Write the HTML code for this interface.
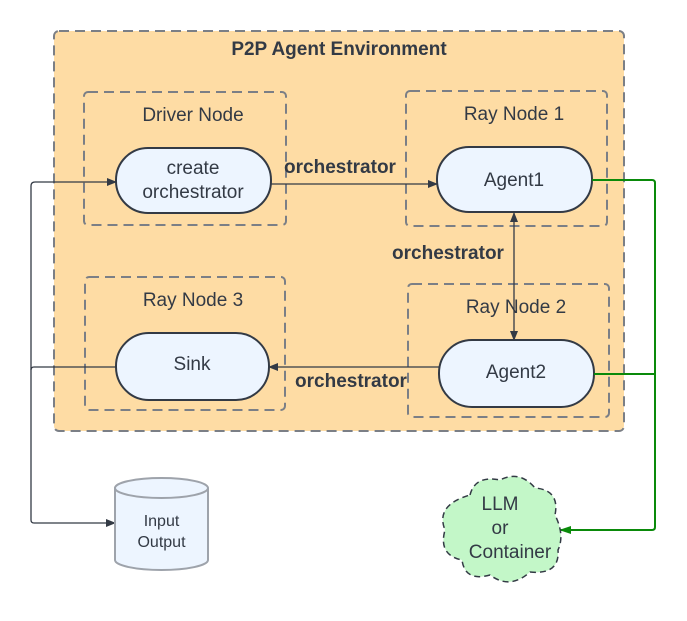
<!DOCTYPE html>
<html><head><style>
body{margin:0;background:#fff;}
svg text{font-family:"Liberation Sans",sans-serif;fill:#333a45;}
</style></head><body>
<svg width="687" height="616" viewBox="0 0 687 616" xmlns="http://www.w3.org/2000/svg">
<defs>
<marker id="a" markerWidth="10" markerHeight="10" refX="9" refY="5" orient="auto" markerUnits="userSpaceOnUse"><path d="M0,1 L10,5 L0,9 Z" fill="#333a45"/></marker>
<marker id="g" markerWidth="12" markerHeight="10" refX="11" refY="5" orient="auto" markerUnits="userSpaceOnUse"><path d="M0,1 L12,5 L0,9 Z" fill="#0a8a0a"/></marker>
</defs>
<rect x="54" y="31" width="570" height="400" rx="5" fill="#fedca4" stroke="#7b7f86" stroke-width="2" stroke-dasharray="10,6"/>
<text x="339" y="55" text-anchor="middle" font-size="19" font-weight="bold">P2P Agent Environment</text>
<g fill="none" stroke="#7b7f86" stroke-width="2" stroke-dasharray="10,6">
<rect x="84" y="92" width="202" height="133" rx="4"/>
<rect x="406" y="91" width="201" height="135" rx="4"/>
<rect x="85" y="277" width="200" height="133" rx="4"/>
<rect x="408" y="284" width="201" height="133" rx="4"/>
</g>
<g font-size="19" text-anchor="middle">
<text x="193" y="121">Driver Node</text>
<text x="514" y="120">Ray Node 1</text>
<text x="193" y="306">Ray Node 3</text>
<text x="516" y="313">Ray Node 2</text>
</g>
<g fill="#edf5ff" stroke="#333a45" stroke-width="2">
<rect x="116" y="148" width="155" height="65" rx="32"/>
<rect x="437" y="147" width="155" height="65" rx="32"/>
<rect x="116" y="333" width="153" height="67" rx="33"/>
<rect x="439" y="340" width="155" height="67" rx="33"/>
</g>
<g font-size="19" text-anchor="middle">
<text x="193" y="174">create</text>
<text x="193" y="198">orchestrator</text>
<text x="514" y="186">Agent1</text>
<text x="192" y="370">Sink</text>
<text x="516" y="378">Agent2</text>
</g>
<g stroke="#333a45" stroke-width="1.3" fill="none">
<line x1="271" y1="184" x2="437" y2="184" marker-end="url(#a)"/>
<line x1="514" y1="250" x2="514" y2="213" marker-end="url(#a)"/>
<line x1="514" y1="250" x2="514" y2="340" marker-end="url(#a)"/>
<line x1="439" y1="367" x2="269" y2="367" marker-end="url(#a)"/>
<path d="M116,367 H34 Q31,367 31,370 V520 Q31,523 34,523 H115" marker-end="url(#a)"/>
<path d="M31,370 V186 Q31,182 35,182 H116" marker-end="url(#a)"/>
</g>
<g font-size="19" font-weight="bold" text-anchor="middle">
<rect x="384" y="240" width="128" height="26" fill="#fedca4"/>
<text x="340" y="173">orchestrator</text>
<text x="448" y="259">orchestrator</text>
<text x="351" y="387">orchestrator</text>
</g>
<g stroke="#0a8a0a" stroke-width="2" fill="none">
<path d="M592,180 H652 Q655,180 655,183 V527 Q655,530 652,530 H560" marker-end="url(#g)"/>
<path d="M594,374 H655"/>
</g>
<g>
<path d="M115,488 V560 A46.5,10 0 0 0 208,560 V488" fill="#edf5ff" stroke="#9ea3ab" stroke-width="2"/>
<ellipse cx="161.5" cy="488" rx="46.5" ry="10" fill="#edf5ff" stroke="#9ea3ab" stroke-width="2"/>
<text x="161.5" y="526" font-size="16" text-anchor="middle">Input</text>
<text x="161.5" y="547" font-size="16" text-anchor="middle">Output</text>
</g>
<path d="M470,495 Q475,475 500,480 Q520,470 535,488 Q560,490 555,515 Q565,535 558,550 Q560,575 530,572 Q510,590 490,575 Q465,582 462,560 Q438,555 445,530 Q435,505 470,495 Z" fill="#c3f7c8" stroke="#333a45" stroke-width="1.5" stroke-dasharray="6,4"/>
<g font-size="19" text-anchor="middle">
<text x="500" y="510">LLM</text>
<text x="500" y="534">or</text>
<text x="510" y="558">Container</text>
</g>
</svg>
</body></html>
